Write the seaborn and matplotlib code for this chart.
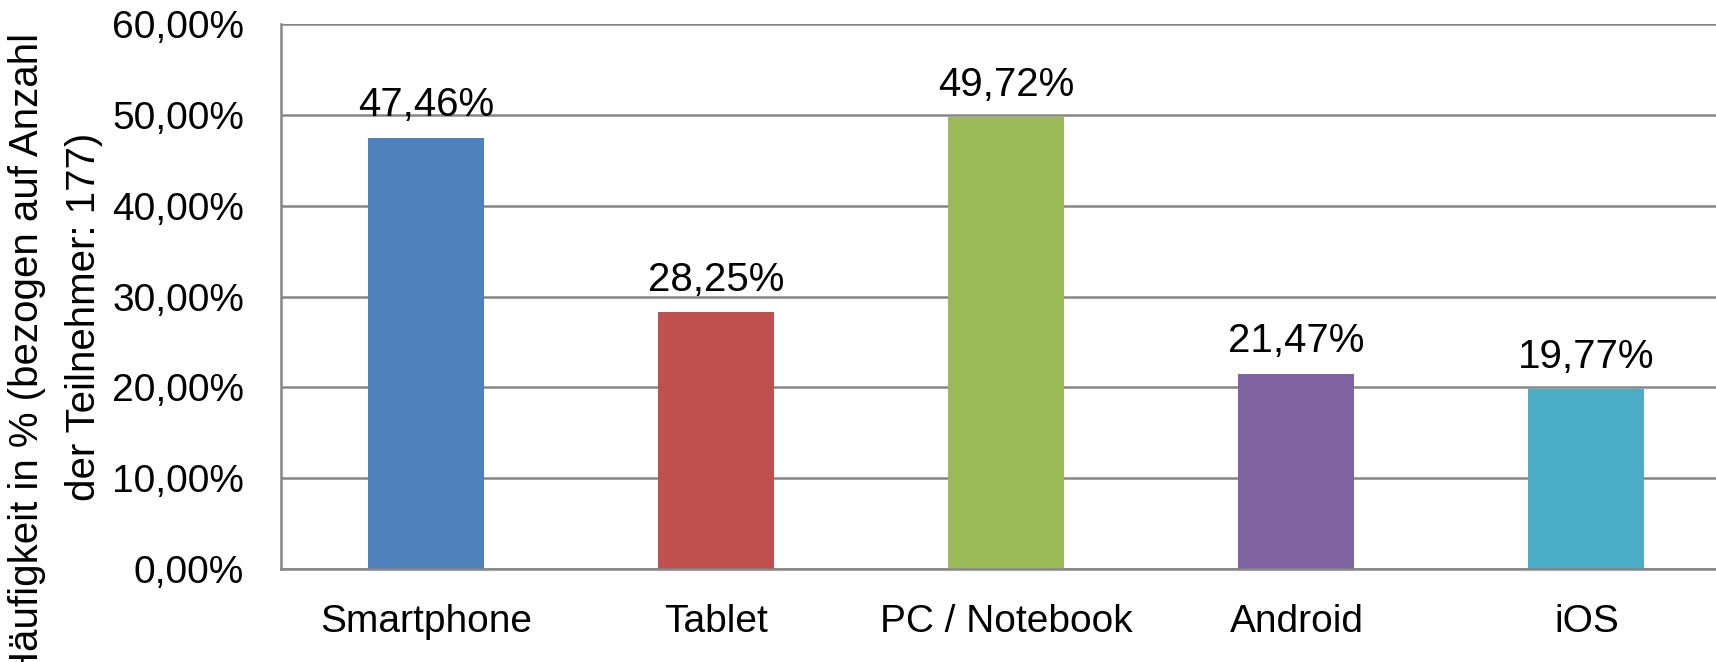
import matplotlib
matplotlib.use("Agg")
import matplotlib.pyplot as plt
import matplotlib.ticker as mticker
import pandas as pd
import seaborn as sns

# data
categories = ["Smartphone", "Tablet", "PC / Notebook", "Android", "iOS"]
shares = [47.46, 28.25, 49.72, 21.47, 19.77]
colors = ["#4F81BD", "#C0504D", "#9BBB59", "#8064A2", "#4BACC6"]
y_ticks = [0, 10, 20, 30, 40, 50, 60]
y_label_lines = ["Häufigkeit in % (bezogen auf Anzahl", "der Teilnehmer: 177)"]

df = pd.DataFrame({"device": categories, "share": shares})

sns.set_style("white")
plt.rcParams["font.family"] = ["Liberation Sans", "DejaVu Sans"]
plt.rcParams["text.color"] = "black"
plt.rcParams["xtick.labelcolor"] = "black"
plt.rcParams["ytick.labelcolor"] = "black"

grid_col = "#868686"

fig = plt.figure(figsize=(17.16, 6.62), dpi=100)
ax = fig.add_axes([0.164, 0.1405, 0.845, 0.8232])

sns.barplot(data=df, x="device", y="share", hue="device", palette=colors,
            width=0.4, legend=False, ax=ax, saturation=1,
            linewidth=0, edgecolor="none")

ax.set_xlim(-0.5, len(categories) - 0.5)
ax.set_ylim(0, 60)
ax.set_yticks(y_ticks)
ax.yaxis.set_major_formatter(
    mticker.FuncFormatter(lambda v, p: f"{v:.2f}%".replace(".", ",")))

ax.grid(axis="y", color=grid_col, linewidth=1.8)
ax.set_axisbelow(True)
for side in ["top", "right"]:
    ax.spines[side].set_visible(False)
for side in ["left", "bottom"]:
    ax.spines[side].set_color(grid_col)
    ax.spines[side].set_linewidth(1.8)

# category separators below the axis
ax.set_xticks([i - 0.5 for i in range(len(categories) + 1)], minor=True)
ax.tick_params(axis="x", which="minor", length=11, width=1.8, color=grid_col)
ax.tick_params(axis="x", which="major", length=0, pad=25, labelsize=28)
ax.tick_params(axis="y", length=10, width=1.8, color=grid_col, pad=17,
               labelsize=28)

for c in ax.containers:
    ax.bar_label(c, labels=[f"{v:.2f}%".replace(".", ",") for v in c.datavalues],
                 padding=10, fontsize=29)

ax.set_xlabel("")
ax.set_ylabel("")
# two-line axis title, each line placed like in the reference
fig.text(27 / 1716, 1 - 356 / 662, y_label_lines[0], rotation=90,
         ha="center", va="center", fontsize=29)
fig.text(84 / 1716, 1 - 317 / 662, y_label_lines[1], rotation=90,
         ha="center", va="center", fontsize=29)

fig.savefig("out.png", dpi=100)
